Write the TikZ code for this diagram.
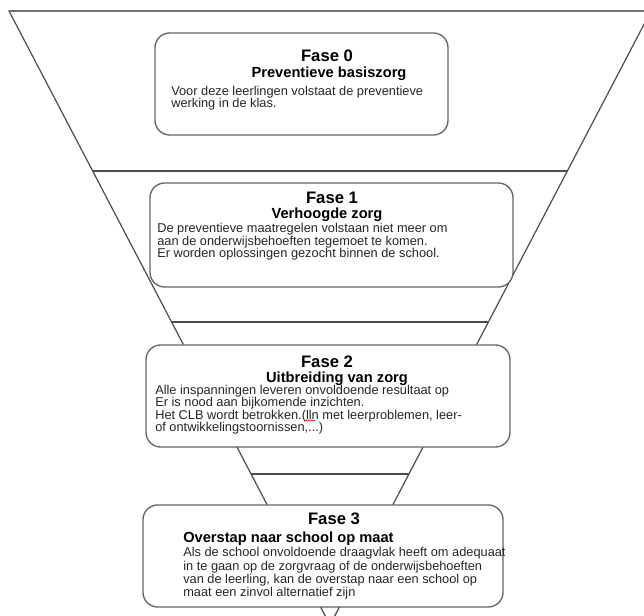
\documentclass[tikz,border=0pt]{standalone}
\usepackage{fontspec}
\setmainfont{Liberation Sans}
\usetikzlibrary{calc}
\usetikzlibrary{positioning}
\usetikzlibrary{decorations.pathmorphing}

\tikzset{
  funnel/.style={draw=black!70, line width=0.9pt},
  fasebox/.style={draw=black!60, line width=1pt, fill=white, rounded corners=11pt, inner sep=0pt},
  fasetitle/.style={font=\bfseries\fontsize{12.5}{14}\selectfont, anchor=base, inner sep=0pt},
  fasesub/.style={font=\bfseries\fontsize{11}{12}\selectfont, anchor=base, inner sep=0pt},
  fasetext/.style={font=\fontsize{9.6}{9.3}\selectfont, align=left, anchor=base west, inner sep=0pt, text=black!85}
}

\begin{document}
\begin{tikzpicture}[x=0.75pt,y=-0.75pt]
\useasboundingbox (0,0) rectangle (644,616);
\clip (0,0) rectangle (644,616);
% trechter
\coordinate (tl) at (9,11);
\coordinate (tr) at (651,11);
\coordinate (tip) at (330,625);
\draw[funnel] (tl) -- (tr) -- (tip) -- cycle;
\draw[funnel, line width=1.5pt, draw=black!55] (tl) -- (tr);
\foreach \f in {0.2606,0.5065,0.7541}
  \draw[funnel] ($(tl)!\f!(tip)$) -- ($(tr)!\f!(tip)$);

% fase 0 (base = laatste regel)
\node[fasebox, minimum width=219.75pt, minimum height=76.5pt] (f0) at (301.5,84) {};
\node[fasetitle] (t0) at (327,62) {Fase 0};
\node[fasesub] (s0) at (329,78) {Preventieve basiszorg};
\node[fasetext] (b0) at (171,107.5) {Voor deze leerlingen volstaat de preventieve\\werking in de klas.};

% fase 1
\node[fasebox, minimum width=272.25pt, minimum height=78pt] (f1) at (331.5,235) {};
\node[fasetitle] (t1) at (332,204) {Fase 1};
\node[fasesub] (s1) at (327,218.5) {Verhoogde zorg};
\node[fasetext] (b1) at (157,257.5) {De preventieve maatregelen volstaan niet meer om\\aan de onderwijsbehoeften tegemoet te komen.\\Er worden oplossingen gezocht binnen de school.};

% fase 2
\node[fasebox, minimum width=273pt, minimum height=76.5pt] (f2) at (328,396) {};
\node[fasetitle] (t2) at (327,368) {Fase 2};
\node[fasesub] (s2) at (337,383) {Uitbreiding van zorg};
\node[fasetext] (b2) at (155,431.5) {Alle inspanningen leveren onvoldoende resultaat op\\Er is nood aan bijkomende inzichten.\\Het CLB wordt betrokken.(lln met leerproblemen, leer-\\of ontwikkelingstoornissen,...)};
\draw[red, line width=0.5pt, decorate, decoration={snake, amplitude=0.5pt, segment length=2.2pt}] (305,420.5) -- (315,420.5);

% fase 3
\node[fasebox, minimum width=270pt, minimum height=76.5pt] (f3) at (323,556) {};
\node[fasetitle] (t3) at (334,525) {Fase 3};
\node[fasesub, anchor=base west] (s3) at (183,542.5) {Overstap naar school op maat};
\node[fasetext, font=\fontsize{9.6}{10}\selectfont] (b3) at (183,597) {Als de school onvoldoende draagvlak heeft om adequaat\\in te gaan op de zorgvraag of de onderwijsbehoeften\\van de leerling, kan de overstap naar een school op\\maat een zinvol alternatief zijn};
\end{tikzpicture}
\end{document}
